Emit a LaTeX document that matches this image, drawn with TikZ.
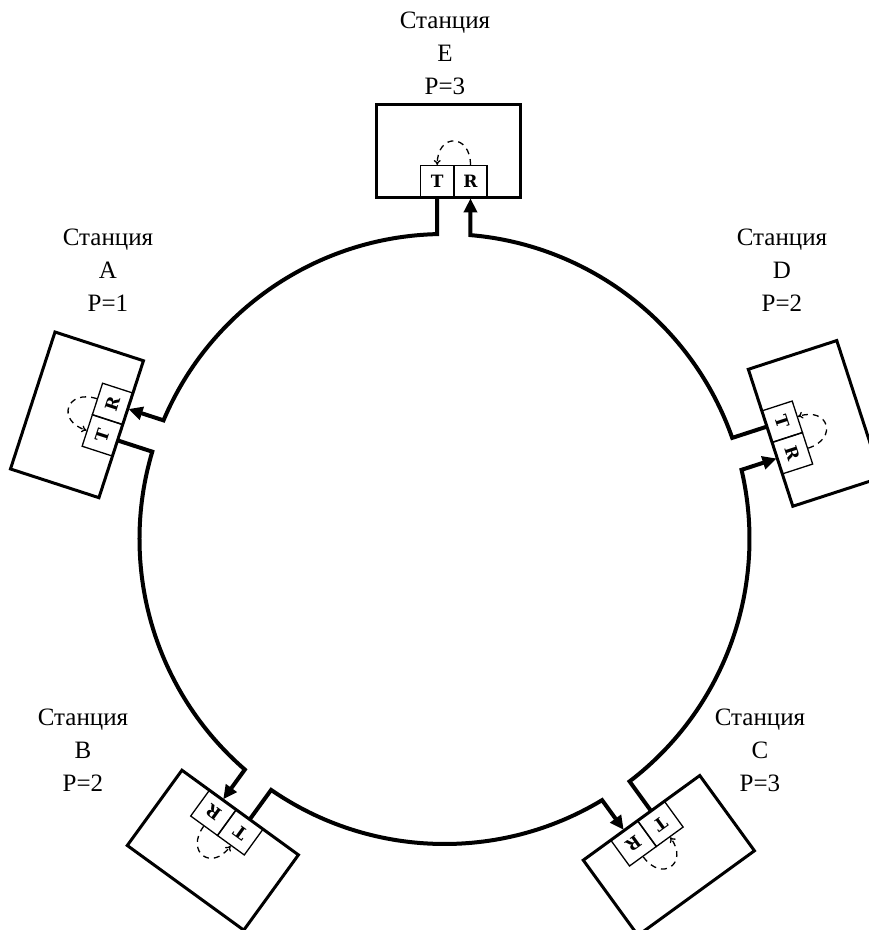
\documentclass[tikz,border=0pt]{standalone}
\usepackage{fontspec}
\setmainfont{Liberation Serif}
\newfontfamily\trfont{DejaVu Serif}
\usetikzlibrary{arrows.meta}
\begin{document}
\begin{tikzpicture}[x=1pt,y=1pt,
  ringline/.style={line width=4pt},
  stbox/.style={draw, line width=3pt, inner sep=0pt, minimum width=144pt, minimum height=93pt, transform shape},
  trbox/.style={draw, line width=1.3pt, inner sep=0pt, minimum width=33pt, minimum height=32pt, font=\trfont\bfseries\fontsize{17}{17}\selectfont, transform shape},
  lbl/.style={align=center, font=\fontsize{25}{33}\selectfont},
  loopar/.style={line width=1.3pt, dash pattern=on 6pt off 5pt, -{To[length=5pt,width=7pt]}},
  inarrow/.style={-{Triangle[length=14pt,width=13pt]}}
]
\useasboundingbox (-444.5,-391) rectangle (424.5,539);
\foreach \n/\a in {E/90, A/162, B/234, C/306, D/18} {
  \begin{scope}[rotate=\a-90]
    \node[stbox] (S\n) at (4.5,387.9) {};
    \node[trbox] (T\n) at (-7.25,357.3) {T};
    \node[trbox] (R\n) at (26,357.3) {R};
    \coordinate (Tr\n) at (-7.25,304.9);
    \coordinate (Rr\n) at (26,303.9);
    \draw[loopar] (R\n.north) .. controls +(0,32) and +(0,32) .. (T\n.north);
  \end{scope}
}
\foreach \s/\t/\a in {E/A/90, A/B/162, B/C/234, C/D/306, D/E/18} {
  \draw[ringline, inarrow] (T\s.south) -- (Tr\s)
    arc[start angle=\a+1.36, end angle=\a+72-4.89, radius=305] -- (R\t.south);
}
\node[lbl] (LE) at (0.5,486) {Станция\\E\\P=3};
\node[lbl] (LA) at (-336.5,269) {Станция\\A\\P=1};
\node[lbl] (LD) at (337.5,269) {Станция\\D\\P=2};
\node[lbl] (LB) at (-361.5,-211) {Станция\\B\\P=2};
\node[lbl] (LC) at (315.5,-211) {Станция\\C\\P=3};
\end{tikzpicture}
\end{document}
